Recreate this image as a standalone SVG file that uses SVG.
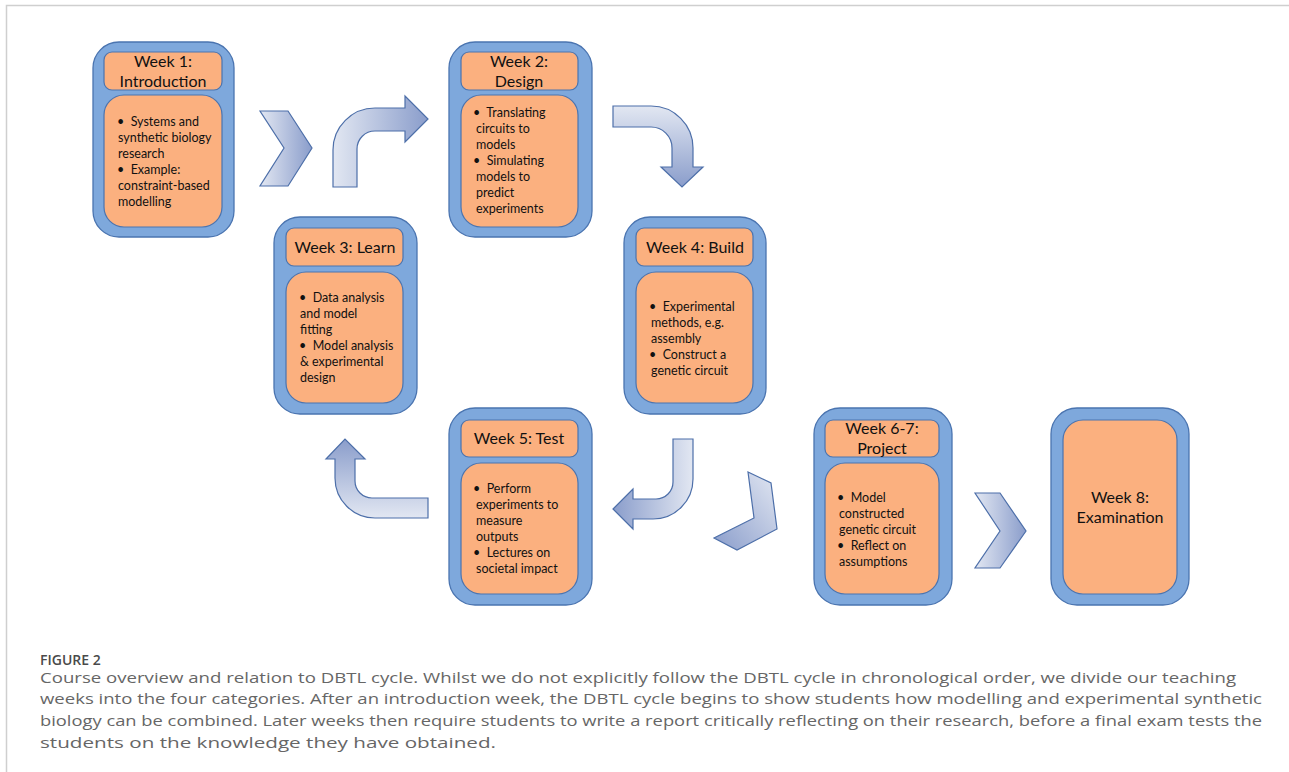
<svg xmlns="http://www.w3.org/2000/svg" width="1289" height="772" viewBox="0 0 1289 772">
<style>
.outer{fill:#7ea8dc;stroke:#4a74b0;stroke-width:1.3}
.inner{fill:#fbb07f;stroke:#4a74b0;stroke-width:1.2}
.hd{font-family:Lato,"Open Sans",sans-serif;font-size:16px;fill:#111;text-anchor:middle}
.bd{font-family:Lato,"Open Sans",sans-serif;font-size:12.5px;fill:#111}
.arr{stroke:#4d6fa9;stroke-width:1.2}
.cap{font-family:"Open Sans","Liberation Sans",sans-serif;font-size:15px;fill:#666}
.frame{stroke:#cfcfcf;stroke-width:1.5;fill:none}
</style>
<defs>
<linearGradient id="gR" x1="0" y1="0" x2="1" y2="0"><stop offset="0" stop-color="#e2e7f2"/><stop offset="1" stop-color="#8a9dcb"/></linearGradient>
<linearGradient id="gL" x1="1" y1="0" x2="0" y2="0"><stop offset="0" stop-color="#e2e7f2"/><stop offset="1" stop-color="#8a9dcb"/></linearGradient>
<linearGradient id="gD" x1="0" y1="0" x2="0" y2="1"><stop offset="0" stop-color="#e2e7f2"/><stop offset="1" stop-color="#8a9dcb"/></linearGradient>
<linearGradient id="gU" x1="0" y1="1" x2="0" y2="0"><stop offset="0" stop-color="#e2e7f2"/><stop offset="1" stop-color="#8a9dcb"/></linearGradient>
<linearGradient id="gT" x1="1" y1="0" x2="0" y2="1"><stop offset="0" stop-color="#e2e7f2"/><stop offset="1" stop-color="#8a9dcb"/></linearGradient>
</defs>
<rect width="1289" height="772" fill="#fff"/>
<path class="frame" d="M6.5,772 V5.5 H1289"/>

<g id="connectors">
<polygon class="arr" fill="url(#gR)" points="260,111 288,111 312,148 288,186 260,186 284,148"/>
<path class="arr" fill="url(#gR)" d="M333,187 L333,150 A42,42 0 0 1 375,108 L405,108 L405,96 L428,119 L405,142 L405,131 L375,131 A18,18 0 0 0 357,149 L357,187 Z"/>
<path class="arr" fill="url(#gD)" d="M613,106 L651,106 A42,42 0 0 1 693,148 L693,167 L703,167 L682,187 L661,167 L672,167 L672,148 A21,21 0 0 0 651,127 L613,127 Z"/>
<path class="arr" fill="url(#gU)" d="M428,498 L372,498 A17,17 0 0 1 355,481 L355,459 L365,459 L345,439 L326,459 L335,459 L335,478 A40,40 0 0 0 375,518 L428,518 Z"/>
<path class="arr" fill="url(#gL)" d="M673,439 L693,439 L693,479 A40,40 0 0 1 653,519 L633,519 L633,529 L613,509 L633,489 L633,499 L656,499 A17,17 0 0 0 673,482 Z"/>
<polygon class="arr" fill="url(#gT)" points="748,472 771,483 777,529 737,550 714,538 754,518"/>
<polygon class="arr" fill="url(#gR)" points="975,493 1000,493 1026,531 1000,568 975,568 1000,531"/>
</g>

<g id="week1">
<rect class="outer" x="93" y="42" width="141" height="195" rx="26"/>
<rect class="inner" x="104" y="52" width="118" height="38" rx="8"/>
<rect class="inner" x="104" y="95" width="118" height="132" rx="20"/>
<text class="hd" x="163" y="67">Week 1:</text>
<text class="hd" x="163" y="87">Introduction</text>
<text class="bd"><tspan x="117" y="126">•&#160; Systems and</tspan><tspan x="118" y="142">synthetic biology</tspan><tspan x="118" y="158">research</tspan><tspan x="117" y="174">•&#160; Example:</tspan><tspan x="118" y="190">constraint-based</tspan><tspan x="118" y="206">modelling</tspan></text>
</g>

<g id="week2">
<rect class="outer" x="449" y="42" width="143" height="195" rx="26"/>
<rect class="inner" x="461" y="52" width="117" height="38" rx="8"/>
<rect class="inner" x="461" y="95" width="117" height="132" rx="20"/>
<text class="hd" x="519" y="67">Week 2:</text>
<text class="hd" x="519" y="87">Design</text>
<text class="bd"><tspan x="473" y="117">•&#160; Translating</tspan><tspan x="476" y="133">circuits to</tspan><tspan x="476" y="149">models</tspan><tspan x="473" y="165">•&#160; Simulating</tspan><tspan x="476" y="181">models to</tspan><tspan x="476" y="197">predict</tspan><tspan x="476" y="213">experiments</tspan></text>
</g>

<g id="week3">
<rect class="outer" x="274" y="217" width="143" height="197" rx="26"/>
<rect class="inner" x="286" y="228" width="117" height="38" rx="8"/>
<rect class="inner" x="286" y="272" width="117" height="131" rx="20"/>
<text class="hd" x="345" y="253">Week 3: Learn</text>
<text class="bd"><tspan x="299" y="302">•&#160; Data analysis</tspan><tspan x="300" y="318">and model</tspan><tspan x="300" y="334">fitting</tspan><tspan x="299" y="350">•&#160; Model analysis</tspan><tspan x="300" y="366">&amp; experimental</tspan><tspan x="300" y="382">design</tspan></text>
</g>

<g id="week4">
<rect class="outer" x="624" y="217" width="142" height="197" rx="26"/>
<rect class="inner" x="636" y="228" width="117" height="38" rx="8"/>
<rect class="inner" x="636" y="272" width="117" height="131" rx="20"/>
<text class="hd" x="695" y="253">Week 4: Build</text>
<text class="bd"><tspan x="649" y="311">•&#160; Experimental</tspan><tspan x="651" y="327">methods, e.g.</tspan><tspan x="651" y="343">assembly</tspan><tspan x="649" y="359">•&#160; Construct a</tspan><tspan x="651" y="375">genetic circuit</tspan></text>
</g>

<g id="week5">
<rect class="outer" x="449" y="408" width="143" height="197" rx="26"/>
<rect class="inner" x="461" y="420" width="117" height="37" rx="8"/>
<rect class="inner" x="461" y="463" width="117" height="131" rx="20"/>
<text class="hd" x="519" y="444">Week 5: Test</text>
<text class="bd"><tspan x="473" y="493">•&#160; Perform</tspan><tspan x="476" y="509">experiments to</tspan><tspan x="476" y="525">measure</tspan><tspan x="476" y="541">outputs</tspan><tspan x="473" y="557">•&#160; Lectures on</tspan><tspan x="476" y="573">societal impact</tspan></text>
</g>

<g id="week6-7">
<rect class="outer" x="814" y="408" width="138" height="197" rx="26"/>
<rect class="inner" x="825" y="420" width="114" height="37" rx="8"/>
<rect class="inner" x="825" y="463" width="114" height="131" rx="20"/>
<text class="hd" x="882" y="434">Week 6-7:</text>
<text class="hd" x="882" y="454">Project</text>
<text class="bd"><tspan x="837" y="502">•&#160; Model</tspan><tspan x="839" y="518">constructed</tspan><tspan x="839" y="534">genetic circuit</tspan><tspan x="837" y="550">•&#160; Reflect on</tspan><tspan x="839" y="566">assumptions</tspan></text>
</g>

<g id="week8">
<rect class="outer" x="1051" y="408" width="138" height="197" rx="26"/>
<rect class="inner" x="1063" y="420" width="114" height="174" rx="20"/>
<text class="hd" x="1120" y="503">Week 8:</text>
<text class="hd" x="1120" y="523">Examination</text>
</g>

<g id="caption">
<text x="40" y="665" style="font-family:'Open Sans','Liberation Sans',sans-serif;font-size:14px;font-weight:600;fill:#4a4a4a">FIGURE 2</text>
<text class="cap" x="40" y="683" textLength="1196" lengthAdjust="spacingAndGlyphs">Course overview and relation to DBTL cycle. Whilst we do not explicitly follow the DBTL cycle in chronological order, we divide our teaching</text>
<text class="cap" x="40" y="704" textLength="1222" lengthAdjust="spacingAndGlyphs">weeks into the four categories. After an introduction week, the DBTL cycle begins to show students how modelling and experimental synthetic</text>
<text class="cap" x="40" y="726" textLength="1222" lengthAdjust="spacingAndGlyphs">biology can be combined. Later weeks then require students to write a report critically reflecting on their research, before a final exam tests the</text>
<text class="cap" x="40" y="748" textLength="456" lengthAdjust="spacingAndGlyphs">students on the knowledge they have obtained.</text>
</g>
</svg>
